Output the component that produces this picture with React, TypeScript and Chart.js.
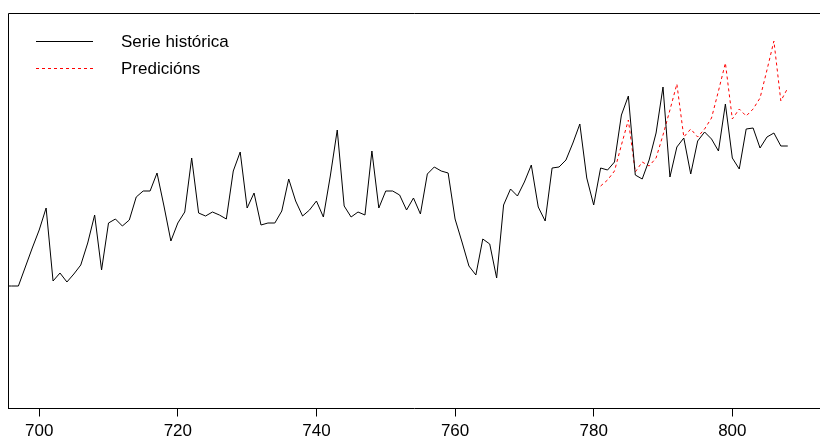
import React, { useEffect, useRef } from "react";
import { Chart, registerables } from "chart.js";

Chart.register(...registerables);

// Historical series: first index and values
const histStart = 695;
const histValues = [
  122, 122, 122, 141, 160, 178, 200, 127, 135, 126,
  134, 143, 165, 193, 138, 185, 189, 182, 188, 211,
  217, 217, 235, 202, 167, 185, 196, 250, 195, 192,
  196, 193, 189, 237, 256, 200, 215, 183, 185, 185,
  197, 229, 207, 192, 198, 207, 191, 232, 278, 202,
  191, 196, 193, 257, 200, 217, 217, 213, 198, 210,
  194, 234, 241, 237, 235, 189, 166, 142, 133, 169,
  164, 130, 203, 219, 212, 226, 243, 201, 187, 240,
  241, 248, 265, 284, 230, 203, 240, 238, 246, 293,
  312, 233, 229, 248, 275, 321, 231, 261, 270, 234,
  267, 276, 269, 257, 304, 250, 239, 279, 280, 260,
  271, 275, 262, 262,
];

// Predictions: first index and values
const predStart = 781;
const predValues = [
  222, 228, 237, 263, 288, 236, 246, 242, 250, 273,
  298, 324, 271, 279, 271, 279, 290, 317, 345, 289,
  299, 292, 299, 310, 338, 367, 307, 320,
];

const tickValues = [700, 720, 740, 760, 780, 800];
const legendLabels = ["Serie histórica", "Predicións"];

const FONT = "'Liberation Sans', Arial, Helvetica, sans-serif";

export default function App() {
  const ref = useRef<HTMLCanvasElement | null>(null);

  useEffect(() => {
    if (!ref.current) return;
    const hist = histValues.map((v, i) => ({ x: histStart + i, y: v }));
    const pred = predValues.map((v, i) => ({ x: predStart + i, y: v }));

    const framePlugin = {
      id: "frame",
      afterDraw(chart: any) {
        const ctx = chart.ctx;
        const a = chart.chartArea;
        ctx.save();
        ctx.strokeStyle = "#000";
        ctx.lineWidth = 1;
        ctx.setLineDash([]);
        ctx.beginPath();
        ctx.moveTo(8.5, a.bottom);
        ctx.lineTo(8.5, 13.5);
        ctx.lineTo(820, 13.5);
        ctx.stroke();

        // legend
        ctx.beginPath();
        ctx.moveTo(36, 41.5);
        ctx.lineTo(93, 41.5);
        ctx.stroke();
        ctx.strokeStyle = "#ff0000";
        ctx.setLineDash([3, 3]);
        ctx.beginPath();
        ctx.moveTo(36, 68.5);
        ctx.lineTo(93, 68.5);
        ctx.stroke();
        ctx.setLineDash([]);
        ctx.fillStyle = "#000";
        ctx.font = `17px ${FONT}`;
        ctx.textBaseline = "alphabetic";
        ctx.textAlign = "left";
        ctx.fillText(legendLabels[0], 121, 47);
        ctx.fillText(legendLabels[1], 121, 74);
        ctx.restore();
      },
    };

    const chart = new Chart(ref.current, {
      type: "line",
      data: {
        datasets: [
          {
            label: legendLabels[0],
            data: hist,
            borderColor: "#000",
            borderWidth: 1,
            pointRadius: 0,
            tension: 0,
            fill: false,
          },
          {
            label: legendLabels[1],
            data: pred,
            borderColor: "#ff0000",
            borderWidth: 1,
            borderDash: [3, 3],
            pointRadius: 0,
            tension: 0,
            fill: false,
          },
        ],
      },
      options: {
        animation: false,
        responsive: false,
        devicePixelRatio: 1,
        layout: { padding: { left: 8, top: 13.5, right: 0, bottom: 0 } },
        plugins: {
          legend: { display: false },
          tooltip: { enabled: false },
        },
        scales: {
          x: {
            type: "linear",
            min: 695.5,
            max: 812.65,
            afterBuildTicks: (scale: any) => {
              scale.ticks = tickValues.map((v) => ({ value: v }));
            },
            afterFit: (scale: any) => {
              scale.height = 29.5;
            },
            ticks: {
              color: "#000",
              font: { family: FONT, size: 17 },
              padding: 5,
              maxRotation: 0,
              autoSkip: false,
              callback: (v: any) => String(v),
            },
            grid: {
              display: true,
              drawOnChartArea: false,
              drawTicks: true,
              tickLength: 8,
              color: "#000",
              lineWidth: 1,
            },
            border: { display: true, color: "#000", width: 1 },
          },
          y: {
            display: false,
            min: -0.5,
            max: 394.5,
          },
        },
      },
      plugins: [framePlugin],
    });
    return () => chart.destroy();
  }, []);

  return (
    <div style={{ position: "absolute", left: 0, top: 0, width: 820, height: 438, background: "#fff" }}>
      <canvas ref={ref} width={820} height={438} style={{ width: 820, height: 438, display: "block" }} />
    </div>
  );
}
